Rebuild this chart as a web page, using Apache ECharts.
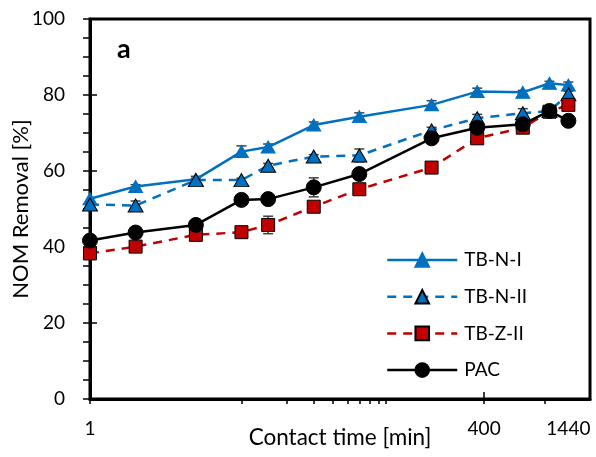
<!DOCTYPE html>
<html>
<head>
<meta charset="utf-8">
<script src="https://cdn.jsdelivr.net/npm/echarts@6/dist/echarts.min.js"></script>
<style>
html,body{margin:0;padding:0;background:#fff;}
#c{width:596px;height:457px;}
</style>
</head>
<body>
<div id="c"></div>
<script>
// ---- data ----
const times = [1, 2, 5, 10, 15, 30, 60, 180, 360, 720, 1080, 1440];
const tbNI  = [52.7, 55.9, 57.8, 65.1, 66.3, 72.1, 74.3, 77.4, 80.9, 80.7, 83.1, 82.6];
const tbNII = [51.2, 50.9, 57.6, 57.6, 61.4, 63.8, 64.1, 70.7, 73.9, 75.2, 75.8, 80.2];
const tbZII = [38.3, 40.1, 43.2, 43.9, 45.8, 50.6, 55.2, 60.9, 68.6, 71.4, 75.6, 77.4];
const pac   = [41.7, 43.8, 45.8, 52.4, 52.6, 55.7, 59.2, 68.6, 71.4, 72.3, 75.8, 73.2];
const errNI  = [0, 0.5, 0.8, 1.5, 0.8, 0.8, 1.0, 1.1, 0.9, 0.5, 0.5, 0.8];
const errNII = [0, 1.2, 0.5, 0.5, 0.6, 0.5, 1.7, 0.8, 1.0, 1.2, 0.5, 0.8];
const errZII = [0, 0, 0, 0, 2.3, 0, 0, 0, 0, 0, 0, 0.8];
const errPAC = [0, 0, 0, 0, 0, 2.5, 0, 0, 0, 0, 0, 1.0];
const xLabels = [1, 400, 1440];
const xMinorTicks = [1, 10, 20, 30, 40, 50, 60, 70, 80, 90, 400, 1000];
const xMajorInside = [400];
const seriesNames = ['TB-N-I', 'TB-N-II', 'TB-Z-II', 'PAC'];

const FONT = 'Lato';
const pairs = (ys) => times.map((t, i) => [t, ys[i]]);
const errData = (ys, es) => times.map((t, i) => [t, ys[i] - es[i], ys[i] + es[i]]).filter((d, i) => es[i] > 0);

function errSeries(ys, es) {
  return {
    type: 'custom',
    xAxisIndex: 0, yAxisIndex: 0,
    z: 1,
    silent: true,
    data: errData(ys, es),
    renderItem: function (params, api) {
      const lo = api.coord([api.value(0), api.value(1)]);
      const hi = api.coord([api.value(0), api.value(2)]);
      const w = 5;
      const st = { stroke: '#404040', lineWidth: 1.5 };
      return {
        type: 'group',
        children: [
          { type: 'line', shape: { x1: lo[0], y1: lo[1], x2: hi[0], y2: hi[1] }, style: st },
          { type: 'line', shape: { x1: lo[0] - w, y1: lo[1], x2: lo[0] + w, y2: lo[1] }, style: st },
          { type: 'line', shape: { x1: hi[0] - w, y1: hi[1], x2: hi[0] + w, y2: hi[1] }, style: st }
        ]
      };
    }
  };
}

const chart = echarts.init(document.getElementById('c'), null, { renderer: 'canvas' });
const blue = '#0070C0', red = '#C00000', black = '#000000';

const baseX = { type: 'log', logBase: 10, min: 1, max: 2000, gridIndex: 0, position: 'bottom' };
const baseY = { type: 'value', min: 0, max: 100, interval: 20, gridIndex: 0, position: 'left' };

const option = {
  animation: false,
  textStyle: { fontFamily: FONT },
  grid: { left: 90, right: 6, top: 19, bottom: 58, outerBoundsMode: 'none', containLabel: false, show: true, borderColor: '#000', borderWidth: 3, backgroundColor: 'transparent' },
  xAxis: [
    Object.assign({}, baseX, {
      name: 'Contact time [min]', nameLocation: 'middle', nameGap: 27, nameMoveOverlap: false,
      nameTextStyle: { fontSize: 22.5, color: '#000', fontFamily: FONT },
      axisLine: { show: true, lineStyle: { color: '#000', width: 3 } },
      axisTick: { show: true, customValues: xMinorTicks, length: 5, lineStyle: { color: '#000', width: 1.5 } },
      axisLabel: { show: true, customValues: xLabels, margin: 20, fontSize: 19, color: '#000', fontFamily: FONT, formatter: v => String(Math.round(v)) },
      splitLine: { show: false }, minorTick: { show: false }
    }),
    Object.assign({}, baseX, {
      axisLine: { show: false },
      axisTick: { show: true, inside: true, customValues: xMajorInside, length: 7, lineStyle: { color: '#000', width: 1.5 } },
      axisLabel: { show: false }, splitLine: { show: false }
    })
  ],
  yAxis: [
    Object.assign({}, baseY, {
      name: 'NOM Removal [%]', nameLocation: 'middle', nameGap: 58, nameRotate: 90, nameMoveOverlap: false,
      nameTextStyle: { fontSize: 22, color: '#000', fontFamily: FONT },
      axisLine: { show: true, lineStyle: { color: '#000', width: 3 } },
      axisTick: { show: true, length: 7, lineStyle: { color: '#000', width: 1.5 } },
      minorTick: { show: true, splitNumber: 4, length: 7, lineStyle: { color: '#000', width: 1.5 } },
      axisLabel: { margin: 25, fontSize: 19, color: '#000', fontFamily: FONT },
      splitLine: { show: false }
    }),
    Object.assign({}, baseY, {
      axisLine: { show: false },
      axisTick: { show: true, inside: true, length: 7, lineStyle: { color: '#000', width: 1.5 } },
      axisLabel: { show: false }, splitLine: { show: false }
    })
  ],
  legend: {
    orient: 'vertical', left: 386, top: 250.5, padding: 0, itemWidth: 70, itemHeight: 17, itemGap: 17.7,
    data: seriesNames,
    lineStyle: { width: 2.5 },
    textStyle: { fontSize: 19, color: '#000', fontFamily: FONT, padding: [0, 0, 0, 2] }
  },
  graphic: [
    { type: 'text', left: 117, top: 36, style: { text: 'a', font: 'bold 27px ' + FONT, fill: '#000' } }
  ],
  series: [
    errSeries(tbNI, errNI), errSeries(tbNII, errNII), errSeries(tbZII, errZII), errSeries(pac, errPAC),
    {
      name: seriesNames[0], type: 'line', data: pairs(tbNI), z: 3,
      symbol: 'triangle', symbolSize: [14, 12],
      lineStyle: { color: blue, width: 2.5 },
      itemStyle: { color: blue, borderColor: blue, borderWidth: 1 }
    },
    {
      name: seriesNames[1], type: 'line', data: pairs(tbNII), z: 4,
      symbol: 'triangle', symbolSize: [15, 13],
      lineStyle: { color: blue, width: 2.5, type: [9, 7] },
      itemStyle: { color: blue, borderColor: '#000', borderWidth: 1 }
    },
    {
      name: seriesNames[2], type: 'line', data: pairs(tbZII), z: 5,
      symbol: 'rect', symbolSize: 13,
      lineStyle: { color: red, width: 2.5, type: [9, 7] },
      itemStyle: { color: red, borderColor: '#000', borderWidth: 1 }
    },
    {
      name: seriesNames[3], type: 'line', data: pairs(pac), z: 6,
      symbol: 'circle', symbolSize: 15,
      lineStyle: { color: black, width: 2.5 },
      itemStyle: { color: black, borderColor: black, borderWidth: 1 }
    }
  ]
};
chart.setOption(option);
</script>
</body>
</html>
